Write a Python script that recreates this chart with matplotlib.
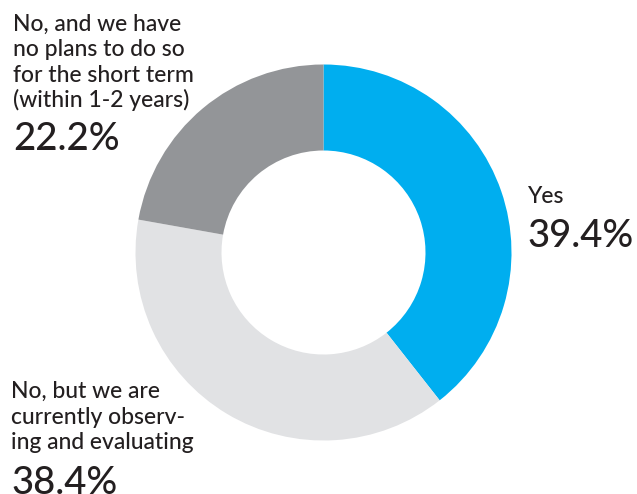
import matplotlib
matplotlib.use("Agg")
import matplotlib.pyplot as plt

# Survey answers
labels = [
    "Yes",
    "No, but we are\ncurrently observ-\ning and evaluating",
    "No, and we have\nno plans to do so\nfor the short term\n(within 1-2 years)",
]
shares = [39.4, 38.4, 22.2]
colors = ["#00AEEF", "#E1E2E4", "#939598"]

W, H = 637, 494
plt.rcParams["font.family"] = ["Lato", "DejaVu Sans"]
text_color = "#231F20"

fig = plt.figure(figsize=(W / 100, H / 100), dpi=100)
ax = fig.add_axes([0, 0, 1, 1])

ax.pie(shares, colors=colors, startangle=90, counterclock=False,
       radius=188, center=(323.5, H - 252.5),
       wedgeprops=dict(width=86, linewidth=0), frame=True)
ax.set_xlim(0, W)
ax.set_ylim(0, H)
ax.set_aspect("equal")
ax.axis("off")

# label blocks: (x, baseline of first line, label index, baseline of percentage)
label_size = 16.5
pct_size = 27.5
blocks = [
    (527, 203, 0, 247),
    (11, 398, 1, 494),
    (13, 31, 2, 150),
]
for x, y0, i, ypct in blocks:
    for k, line in enumerate(labels[i].split("\n")):
        ax.text(x, H - (y0 + 25.5 * k), line, fontsize=label_size,
                fontweight="medium", color=text_color,
                va="baseline", ha="left")
    ax.text(x, H - ypct, f"{shares[i]}%", fontsize=pct_size,
            fontweight="medium", color=text_color,
            va="baseline", ha="left")

fig.savefig("out.png", dpi=100)
